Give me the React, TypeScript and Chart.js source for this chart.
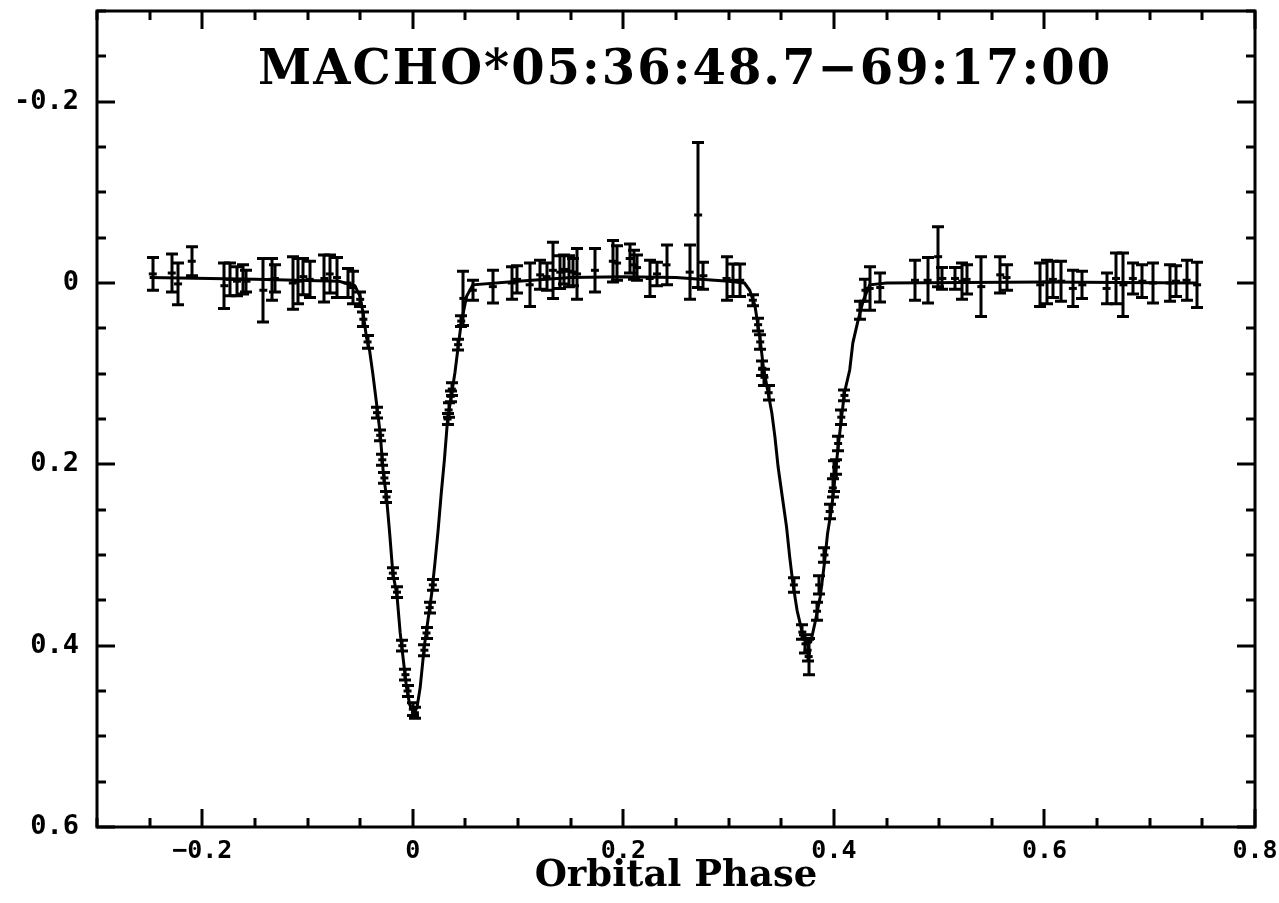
import React, { useEffect, useRef } from 'react';
import { Chart, registerables } from 'chart.js';

Chart.register(...registerables);

const TITLE = 'MACHO*05:36:48.7\u221269:17:00';
const X_TITLE = 'Orbital Phase';
const X_LABEL_TICKS = [-0.2, 0, 0.2, 0.4, 0.6, 0.8];
const Y_LABEL_TICKS = [-0.2, 0, 0.2, 0.4, 0.6];

// model light curve (line)
const MODEL_PHASE = [
  -0.25, -0.15, -0.07, -0.055, -0.05, -0.047, -0.044, -0.041, -0.038, -0.034, -0.031, -0.028, -0.025,
  -0.022, -0.019, -0.015, -0.012, -0.009, -0.006, -0.003, 0.001, 0.004, 0.007, 0.011, 0.014, 0.018,
  0.021, 0.024, 0.027, 0.03, 0.033, 0.037, 0.04, 0.043, 0.046, 0.051, 0.057, 0.1, 0.15, 0.2, 0.25,
  0.3, 0.315, 0.32, 0.325, 0.33, 0.333, 0.337, 0.341, 0.344, 0.347, 0.351, 0.355, 0.358, 0.361, 0.365,
  0.37, 0.375, 0.378, 0.382, 0.387, 0.391, 0.394, 0.398, 0.401, 0.404, 0.407, 0.41, 0.415, 0.418,
  0.423, 0.428, 0.434, 0.45, 0.6, 0.745,
];
const MODEL_MAG = [
  -0.006, -0.004, -0.002, 0.003, 0.015, 0.035, 0.06, 0.075, 0.1, 0.137, 0.166, 0.21, 0.236,
  0.276, 0.32, 0.345, 0.386, 0.416, 0.446, 0.465, 0.475, 0.468, 0.446, 0.4, 0.375, 0.342,
  0.309, 0.273, 0.232, 0.195, 0.151, 0.121, 0.099, 0.071, 0.044, 0.015, 0.002, -0.002, -0.006, -0.007, -0.006,
  -0.002, 0.0, 0.008, 0.025, 0.063, 0.093, 0.118, 0.143, 0.17, 0.203, 0.236, 0.269, 0.302, 0.331, 0.361,
  0.386, 0.398, 0.396, 0.375, 0.346, 0.309, 0.276, 0.247, 0.214, 0.181, 0.151, 0.121, 0.096, 0.066,
  0.041, 0.019, 0.002, 0.0, -0.001, 0.0,
];

// observations with errors
const OBS_PHASE = [
  -0.247, -0.229, -0.223, -0.21, -0.179, -0.174, -0.167, -0.161, -0.158, -0.142, -0.134, -0.131,
  -0.114, -0.109, -0.104, -0.098, -0.084, -0.079, -0.072, -0.062, -0.057,
  -0.05, -0.047, -0.043, -0.034, -0.031, -0.029, -0.027, -0.025, -0.019, -0.015, -0.01, -0.007,
  -0.005, 0.0, 0.002, 0.011, 0.013, 0.016, 0.019, 0.033, 0.034, 0.036, 0.037, 0.043, 0.046, 0.048,
  0.057, 0.076, 0.094, 0.099, 0.111, 0.121, 0.127, 0.133, 0.14, 0.144, 0.148, 0.152, 0.156, 0.173,
  0.19, 0.194, 0.206, 0.21, 0.213, 0.225, 0.232, 0.241, 0.263, 0.271, 0.276, 0.298, 0.304, 0.311,
  0.323, 0.328, 0.33, 0.332, 0.334, 0.338, 0.362, 0.37, 0.373, 0.375, 0.376, 0.384, 0.386, 0.391,
  0.396, 0.399, 0.4, 0.402, 0.404, 0.407, 0.41, 0.425, 0.43,
  0.434, 0.444, 0.477, 0.489, 0.499, 0.503, 0.515, 0.522, 0.526, 0.54, 0.558, 0.564, 0.596, 0.602,
  0.608, 0.616, 0.627, 0.636, 0.659, 0.668, 0.675, 0.684, 0.693, 0.703, 0.719, 0.725, 0.735, 0.745,
];
const OBS_MAG = [
  -0.01, -0.011, 0.001, -0.024, 0.003, -0.004, -0.002, -0.004, -0.002, 0.008, -0.004, -0.005,
  0.0, -0.002, -0.007, -0.004, -0.005, -0.01, -0.006, 0.0, 0.005,
  0.018, 0.04, 0.065, 0.143, 0.168, 0.195, 0.215, 0.236, 0.32, 0.341, 0.4, 0.432,
  0.45, 0.47, 0.474, 0.405, 0.386, 0.358, 0.333, 0.15, 0.14, 0.125, 0.117, 0.068, 0.042, 0.017,
  0.008, 0.004, 0.0, -0.004, 0.002, -0.009, -0.007, -0.014, -0.012, -0.015, -0.013, -0.012, -0.01, -0.014,
  -0.024, -0.022, -0.027, -0.02, -0.017, -0.005, -0.01, -0.02, -0.012, -0.075, -0.008, -0.005, -0.003, -0.003,
  0.019, 0.046, 0.065, 0.094, 0.104, 0.121, 0.333, 0.385, 0.398, 0.405, 0.412, 0.362, 0.333, 0.3,
  0.252, 0.226, 0.213, 0.203, 0.177, 0.148, 0.124, 0.03, 0.008,
  0.006, 0.005, -0.003, -0.003, -0.029, -0.005, -0.005, -0.002, -0.004, 0.004, -0.009, -0.006, 0.002, -0.001,
  -0.004, -0.002, 0.006, 0.002, 0.006, -0.005, 0.002, -0.005, -0.002, 0.0, 0.0, -0.002, -0.003, 0.002,
];
const OBS_ERR = [
  0.018, 0.021, 0.023, 0.016, 0.025, 0.018, 0.016, 0.016, 0.012, 0.035, 0.023, 0.015,
  0.029, 0.025, 0.02, 0.02, 0.026, 0.021, 0.022, 0.016, 0.018,
  0.008, 0.008, 0.007, 0.006, 0.006, 0.006, 0.006, 0.006, 0.006, 0.006, 0.006, 0.006,
  0.006, 0.007, 0.006, 0.006, 0.006, 0.006, 0.006, 0.006, 0.008, 0.006, 0.007, 0.006, 0.006, 0.03,
  0.011, 0.018, 0.018, 0.015, 0.024, 0.016, 0.015, 0.031, 0.018, 0.016, 0.017, 0.015, 0.028, 0.024,
  0.023, 0.019, 0.016, 0.016, 0.014, 0.02, 0.013, 0.022, 0.03, 0.08, 0.015, 0.024, 0.018, 0.018,
  0.006, 0.007, 0.008, 0.008, 0.009, 0.008, 0.008, 0.008, 0.01, 0.012, 0.02, 0.01, 0.01, 0.008,
  0.008, 0.01, 0.017, 0.008, 0.008, 0.008, 0.006, 0.01, 0.012,
  0.024, 0.016, 0.022, 0.025, 0.033, 0.012, 0.012, 0.02, 0.016, 0.033, 0.02, 0.014, 0.024, 0.024,
  0.02, 0.022, 0.02, 0.015, 0.017, 0.028, 0.035, 0.017, 0.018, 0.022, 0.02, 0.017, 0.022, 0.025,
];

const TICK_FONT_X = { family: '"DejaVu Sans Mono"', size: 25, weight: 'bold' as const };
const TICK_FONT_Y = { family: '"DejaVu Sans Mono"', size: 27, weight: 'bold' as const };

const zeroPadding = (s: any) => {
  s.paddingLeft = 0;
  s.paddingRight = 0;
  s.paddingTop = 0;
  s.paddingBottom = 0;
};

const errorBarPlugin = {
  id: 'errorBars',
  afterDatasetsDraw(chart: any) {
    const { ctx, chartArea: a, scales } = chart;
    const x = scales.x;
    const y = scales.y;
    ctx.save();
    ctx.beginPath();
    ctx.rect(a.left, a.top, a.right - a.left, a.bottom - a.top);
    ctx.clip();
    ctx.strokeStyle = '#000';
    ctx.lineWidth = 3;
    ctx.lineCap = 'butt';
    const cap = 6;
    for (let i = 0; i < OBS_PHASE.length; i++) {
      const px = Math.round(x.getPixelForValue(OBS_PHASE[i]));
      const p1 = y.getPixelForValue(OBS_MAG[i] - OBS_ERR[i]);
      const p2 = y.getPixelForValue(OBS_MAG[i] + OBS_ERR[i]);
      ctx.beginPath();
      ctx.moveTo(px, p1);
      ctx.lineTo(px, p2);
      ctx.moveTo(px - cap, p1);
      ctx.lineTo(px + cap, p1);
      ctx.moveTo(px - cap, p2);
      ctx.lineTo(px + cap, p2);
      ctx.stroke();
    }
    ctx.restore();
  },
};

const framePlugin = {
  id: 'frame',
  afterDraw(chart: any) {
    const { ctx, chartArea: a, scales } = chart;
    const x = scales.x;
    const y = scales.y;
    ctx.save();
    ctx.strokeStyle = '#000';
    ctx.lineWidth = 3;
    ctx.strokeRect(a.left, a.top, a.right - a.left, a.bottom - a.top);
    const major = 18;
    const minor = 9;
    ctx.beginPath();
    for (let k = -6; k <= 16; k++) {
      const v = k * 0.05;
      const len = k % 4 === 0 ? major : minor;
      const px = Math.round(x.getPixelForValue(v));
      ctx.moveTo(px, a.bottom);
      ctx.lineTo(px, a.bottom - len);
      ctx.moveTo(px, a.top);
      ctx.lineTo(px, a.top + len);
    }
    for (let k = -6; k <= 12; k++) {
      const v = k * 0.05;
      const len = k % 4 === 0 ? major : minor;
      const py = Math.round(y.getPixelForValue(v));
      ctx.moveTo(a.left, py);
      ctx.lineTo(a.left + len, py);
      ctx.moveTo(a.right, py);
      ctx.lineTo(a.right - len, py);
    }
    ctx.stroke();

    // title inside the plot frame
    ctx.fillStyle = '#000';
    ctx.font = 'bold 48px "DejaVu Serif"';
    ctx.textAlign = 'left';
    ctx.textBaseline = 'alphabetic';
    const targetWidth = 852;
    const w0 = ctx.measureText(TITLE).width;
    const ls = (targetWidth - w0) / (TITLE.length - 1);
    (ctx as any).letterSpacing = ls.toFixed(2) + 'px';
    const startX = 684 - targetWidth / 2;
    ctx.fillText(TITLE, startX, a.top + 73);
    (ctx as any).letterSpacing = '0px';
    ctx.restore();
  },
};

export default function App() {
  const ref = useRef<HTMLCanvasElement | null>(null);
  useEffect(() => {
    if (!ref.current) return;
    const chart = new Chart(ref.current, {
      type: 'scatter',
      data: {
        datasets: [
          {
            type: 'line',
            label: 'model',
            data: MODEL_PHASE.map((p, i) => ({ x: p, y: MODEL_MAG[i] })),
            borderColor: '#000',
            borderWidth: 3,
            pointRadius: 0,
            tension: 0,
            fill: false,
          } as any,
          {
            type: 'scatter',
            label: 'data',
            data: OBS_PHASE.map((p, i) => ({ x: p, y: OBS_MAG[i] })),
            borderColor: '#000',
            backgroundColor: '#000',
            pointStyle: 'line',
            pointRadius: 4,
            borderWidth: 3,
          } as any,
        ],
      },
      options: {
        animation: false,
        responsive: true,
        maintainAspectRatio: false,
        layout: { padding: { top: 11, right: 24, left: 0, bottom: 0 } },
        plugins: { legend: { display: false }, tooltip: { enabled: false }, title: { display: false } },
        scales: {
          x: {
            type: 'linear',
            min: -0.3,
            max: 0.8,
            afterBuildTicks: (s: any) => {
              s.ticks = X_LABEL_TICKS.map((value) => ({ value }));
            },
            afterFit: (s: any) => {
              s.height = 76;
              zeroPadding(s);
            },
            grid: { display: false, drawTicks: false },
            border: { display: false },
            ticks: {
              autoSkip: false,
              maxRotation: 0,
              color: '#000',
              padding: 9,
              font: TICK_FONT_X,
              callback: (v: any) => (v === 0 ? '0' : (v < 0 ? '\u2212' : '') + String(Math.abs(v))),
            },
            title: {
              display: true,
              text: X_TITLE,
              color: '#000',
              font: { family: '"DejaVu Serif"', size: 37, weight: 'bold', lineHeight: 1 },
              padding: { top: 0, bottom: 8 },
            },
          },
          y: {
            type: 'linear',
            reverse: true,
            min: -0.3,
            max: 0.6,
            afterBuildTicks: (s: any) => {
              s.ticks = Y_LABEL_TICKS.map((value) => ({ value }));
            },
            afterFit: (s: any) => {
              s.width = 97;
              zeroPadding(s);
            },
            grid: { display: false, drawTicks: false },
            border: { display: false },
            ticks: {
              autoSkip: false,
              color: '#000',
              padding: 18,
              font: TICK_FONT_Y,
              callback: (v: any) => (v === 0 ? '0' : (v < 0 ? '-' : '') + String(Math.abs(v))),
            },
          },
        },
      } as any,
      plugins: [errorBarPlugin, framePlugin],
    });
    return () => chart.destroy();
  }, []);
  return (
    <div style={{ position: 'fixed', left: 0, top: 0, width: 1279, height: 903, background: '#fff' }}>
      <canvas ref={ref} />
    </div>
  );
}
